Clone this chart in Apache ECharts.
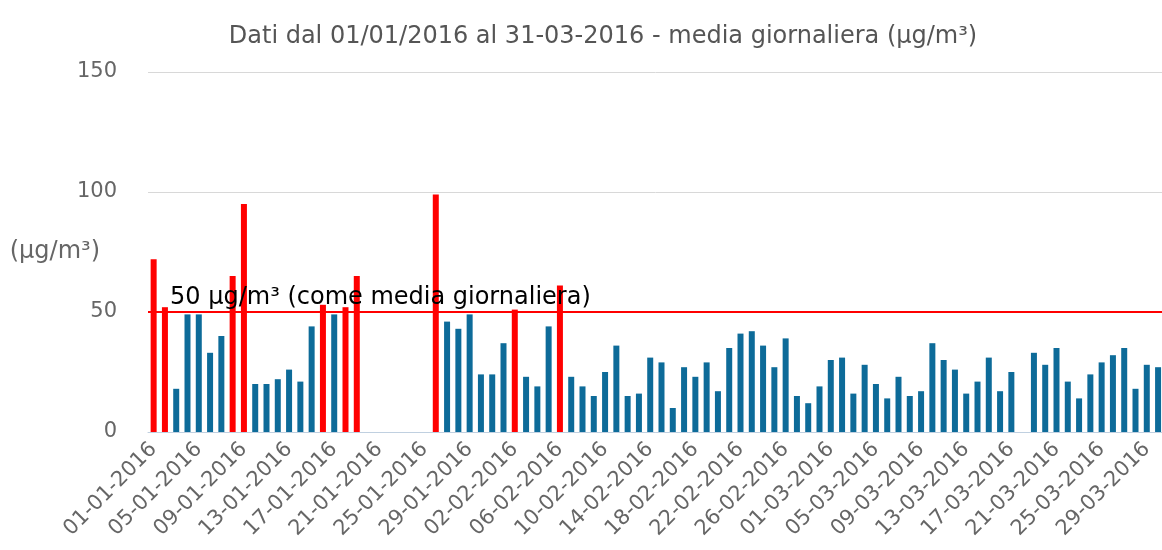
<!DOCTYPE html>
<html>
<head>
<meta charset="utf-8">
<script src="https://cdn.jsdelivr.net/npm/echarts@6/dist/echarts.min.js"></script>
<style>
  html, body { margin: 0; padding: 0; background: #fff; }
  #chart { width: 1162px; height: 550px; }
</style>
</head>
<body>
<div id="chart"></div>
<script>
// daily means, 01-01-2016 .. 31-03-2016 (null = no data)
var values = [
  72, 52, 18, 49, 49, 33, 40, 65, 95, 20, 20, 22, 26, 21, 44, 53, 49, 52, 65,
  null, null, null, null, null, null,
  99, 46, 43, 49, 24, 24, 37, 51, 23, 19, 44, 61, 23, 19, 15, 25, 36, 15, 16, 31,
  29, 10, 27, 23, 29, 17, 35, 41, 42, 36, 27, 39, 15, 12, 19, 30, 31, 16, 28, 20, 14, 23, 15,
  17, 37, 30, 26, 16, 21, 31, 17, 25, null, 33, 28, 35, 21, 14, 24, 29, 32, 35, 18, 28, 27, null
];
var limit = 50;
var yTicks = [0, 50, 100, 150];

var monthDays = [31, 29, 31];
var days = [];
for (var m = 0; m < monthDays.length; m++) {
  for (var d = 1; d <= monthDays[m]; d++) {
    days.push((d < 10 ? "0" : "") + d + "-0" + (m + 1) + "-2016");
  }
}

var chart = echarts.init(document.getElementById("chart"));

var barData = values.map(function(v) {
  return {
    value: v,
    itemStyle: { color: v > limit ? "#ff0000" : "#0d6b99" }
  };
});

chart.setOption({
  animation: false,
  title: {
    text: "Dati dal 01/01/2016 al 31-03-2016 - media giornaliera (µg/m³)",
    left: 598,
    textAlign: "center",
    top: 20,
    textStyle: {
      fontFamily: "DejaVu Sans",
      fontWeight: "normal",
      fontSize: 24,
      color: "#555"
    }
  },
  // plot is wider than the window: the last day is cut off on the right
  grid: { left: 148, right: -13, top: 72, bottom: 118, outerBoundsMode: "none" },
  xAxis: {
    type: "category",
    data: days,
    boundaryGap: true,
    axisLine: { lineStyle: { color: "#c0d0e0", width: 1 } },
    axisTick: { interval: 3, alignWithLabel: true, length: 10, lineStyle: { color: "#c0d0e0" } },
    axisLabel: {
      interval: 3,
      rotate: 45,
      margin: 14,
      color: "#666",
      fontFamily: "DejaVu Sans",
      fontSize: 21
    }
  },
  yAxis: {
    type: "value",
    min: yTicks[0],
    max: yTicks[yTicks.length - 1],
    interval: 50,
    name: "(µg/m³)",
    nameLocation: "middle",
    nameRotate: 0,
    nameGap: 48,
    nameMoveOverlap: false,
    nameTextStyle: {
      color: "#666",
      fontFamily: "DejaVu Sans",
      fontSize: 24,
      padding: [0, 0, 14, 0]
    },
    axisLine: { show: false },
    axisTick: { show: false },
    axisLabel: {
      margin: 31,
      color: "#666",
      fontFamily: "DejaVu Sans",
      fontSize: 21
    },
    splitLine: { lineStyle: { color: "#d8d8d8", width: 1 } }
  },
  series: [
    {
      type: "bar",
      data: barData,
      barWidth: 6,
      markLine: {
        silent: true,
        symbol: "none",
        lineStyle: { color: "#ff0000", width: 2, type: "solid" },
        label: {
          show: true,
          position: "insideStartTop",
          formatter: "50 µg/m³ (come media giornaliera)",
          color: "#000",
          fontFamily: "DejaVu Sans",
          fontSize: 24,
          distance: [22, 2]
        },
        data: [{ yAxis: limit }]
      }
    }
  ]
});
</script>
</body>
</html>
